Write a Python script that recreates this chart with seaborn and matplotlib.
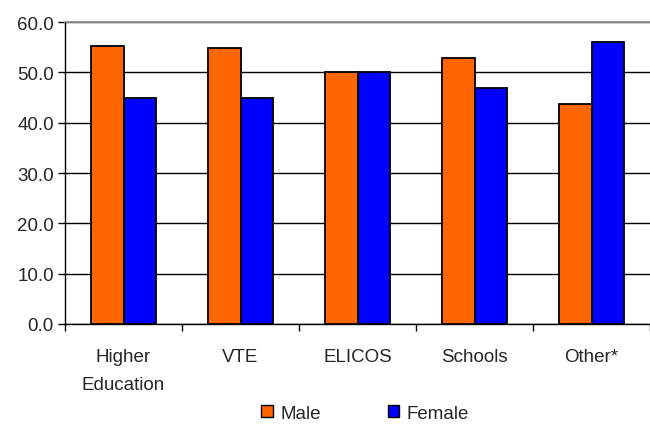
import matplotlib
matplotlib.use("Agg")
import matplotlib.pyplot as plt
import seaborn as sns
import pandas as pd
from matplotlib.ticker import FormatStrFormatter, FixedLocator
from matplotlib.patches import Patch

categories = ["Higher\nEducation", "VTE", "ELICOS", "Schools", "Other*"]
male = [55.2, 54.9, 50.0, 52.9, 43.7]
female = [45.0, 45.0, 50.0, 46.9, 56.1]
series = ["Male", "Female"]
colors = ["#FF6600", "#0000FF"]

df = pd.DataFrame({
    "category": categories * 2,
    "value": male + female,
    "sex": ["Male"] * len(categories) + ["Female"] * len(categories),
})

sns.set_style("white")
plt.rcParams["font.family"] = ["Liberation Sans", "DejaVu Sans"]

fig = plt.figure(figsize=(6.5, 4.27), dpi=100)
ax = fig.add_axes([0.1, 0.239, 0.9, 0.707])

sns.barplot(data=df, x="category", y="value", hue="sex", hue_order=series,
            palette=colors, saturation=1, width=0.56, edgecolor="black",
            linewidth=1.3, ax=ax, legend=False, zorder=3)

ax.set_ylim(0, 60)
ax.set_xlim(-0.5, len(categories) - 0.5)
ax.set_yticks([0, 10, 20, 30, 40, 50, 60])
ax.yaxis.set_major_formatter(FormatStrFormatter("%.1f"))
ax.grid(axis="y", color="black", linewidth=1, zorder=0)
ax.set_axisbelow(True)
ax.set_xlabel("")
ax.set_ylabel("")

ax.spines["right"].set_visible(False)
ax.spines["top"].set_color("#909090")
ax.spines["top"].set_linewidth(1.3)
ax.spines["left"].set_color("black")
ax.spines["bottom"].set_color("black")
ax.spines["left"].set_linewidth(1)
ax.spines["bottom"].set_linewidth(1)

ax.tick_params(axis="y", left=True, length=5, width=1, color="black",
               labelsize=13.5, pad=3)
ax.tick_params(axis="x", which="major", length=0, labelsize=13.5, pad=17)
ax.xaxis.set_minor_locator(FixedLocator([i - 0.5 for i in range(len(categories) + 1)]))
ax.tick_params(axis="x", which="minor", bottom=True, length=5, width=1, color="black")
for lab in ax.get_xticklabels():
    lab.set_linespacing(1.85)

handles = [Patch(facecolor=c, edgecolor="black", linewidth=1) for c in colors]
fig.legend(handles, series, loc="center", bbox_to_anchor=(0.562, 0.03), ncol=2,
           frameon=False, fontsize=13.5, handlelength=0.6, handleheight=0.6,
           handletextpad=0.4, columnspacing=3.6)

fig.savefig("out.png", dpi=100)
